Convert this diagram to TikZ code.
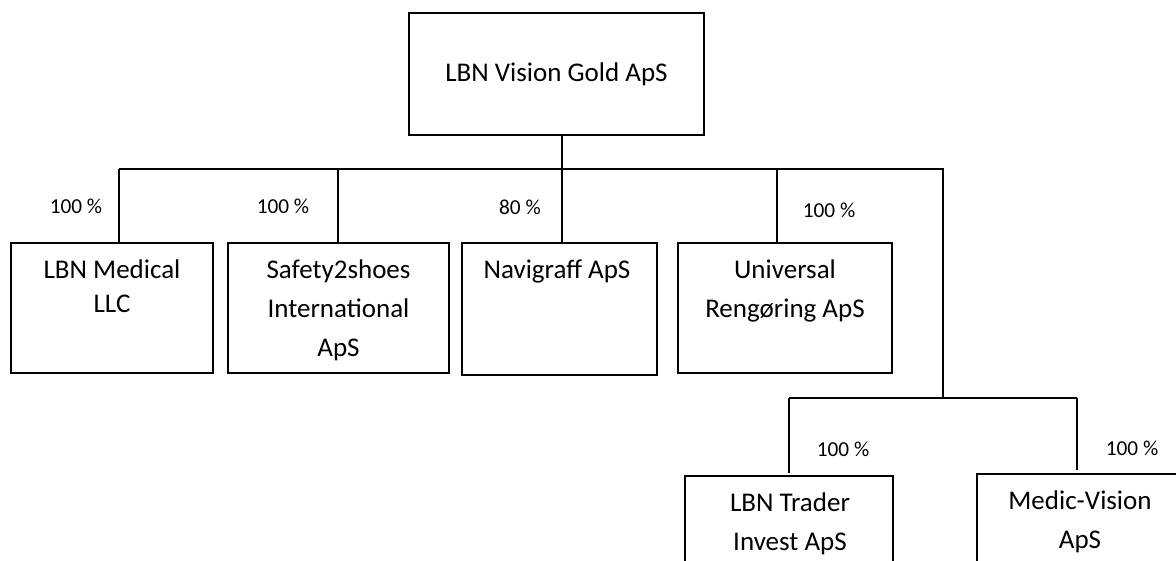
\documentclass[tikz,border=0pt]{standalone}
\usepackage{fontspec}
\setmainfont{Carlito}
\tikzset{
  orgbox/.style={draw=black, line width=1.2pt, inner sep=0pt},
  boxtext/.style={inner sep=0pt, align=center, anchor=base, font=\fontsize{27}{39}\selectfont},
  pct/.style={inner sep=0pt, anchor=base, font=\fontsize{21.3}{25}\selectfont},
  conn/.style={draw=black, line width=1.2pt},
}
\begin{document}
\begin{tikzpicture}[x=1pt,y=-1pt]
\useasboundingbox (0,0) rectangle (1176,560);
\clip (0,0) rectangle (1176,560);
% boxes
\node[orgbox, minimum width=295pt, minimum height=122pt] (top) at (556.5,74) {};
\node[orgbox, minimum width=202pt, minimum height=130pt] (med) at (112,308) {};
\node[orgbox, minimum width=221pt, minimum height=130pt] (saf) at (338.5,308) {};
\node[orgbox, minimum width=195pt, minimum height=132pt] (nav) at (559.5,309) {};
\node[orgbox, minimum width=214pt, minimum height=130pt] (uni) at (785,308) {};
\node[orgbox, minimum width=208pt, minimum height=130pt] (trd) at (789,541) {};
\node[orgbox, minimum width=208pt, minimum height=130pt] (mv) at (1081,539) {};
% texts (anchor = baseline of the last line)
\node[boxtext] (ttop) at (556.5,81) {LBN Vision Gold ApS};
\node[boxtext] (tmed) at (112,312) {LBN Medical\\[-5pt]LLC};
\node[boxtext] (tsaf) at (338.5,356) {Safety2shoes\\International\\ApS};
\node[boxtext] (tnav) at (557,278) {Navigraff ApS};
\node[boxtext] (tuni) at (785,317) {Universal\\Rengøring ApS};
\node[boxtext] (ttrd) at (790,550) {LBN Trader\\Invest ApS};
\node[boxtext] (tmv) at (1080,548) {Medic-Vision\\ApS};
% percentages
\node[pct] (p1) at (76,213) {100 \%};
\node[pct] (p2) at (283,213) {100 \%};
\node[pct] (p3) at (520,214) {80 \%};
\node[pct] (p4) at (829,217) {100 \%};
\node[pct] (p5) at (843,456) {100 \%};
\node[pct] (p6) at (1132,455) {100 \%};
% junctions
\coordinate (j0) at (562,169);
\coordinate (jl) at (119,169);
\coordinate (js) at (338,169);
\coordinate (ju) at (777,169);
\coordinate (jr) at (943,169);
\coordinate (k0) at (943,398);
\coordinate (kl) at (789,398);
\coordinate (kr) at (1077,398);
% connectors
\draw[conn] (top.south -| j0) -- (j0);
\draw[conn] (jl) -- (jr) -- (k0);
\draw[conn] (jl) -- (med.north -| jl);
\draw[conn] (js) -- (saf.north -| js);
\draw[conn] (j0) -- (nav.north -| j0);
\draw[conn] (ju) -- (uni.north -| ju);
\draw[conn] (kl) -- (kr);
\draw[conn, shorten >=2pt] (kl) -- (trd.north -| kl);
\draw[conn, shorten >=3pt] (kr) -- (mv.north -| kr);
\end{tikzpicture}
\end{document}
